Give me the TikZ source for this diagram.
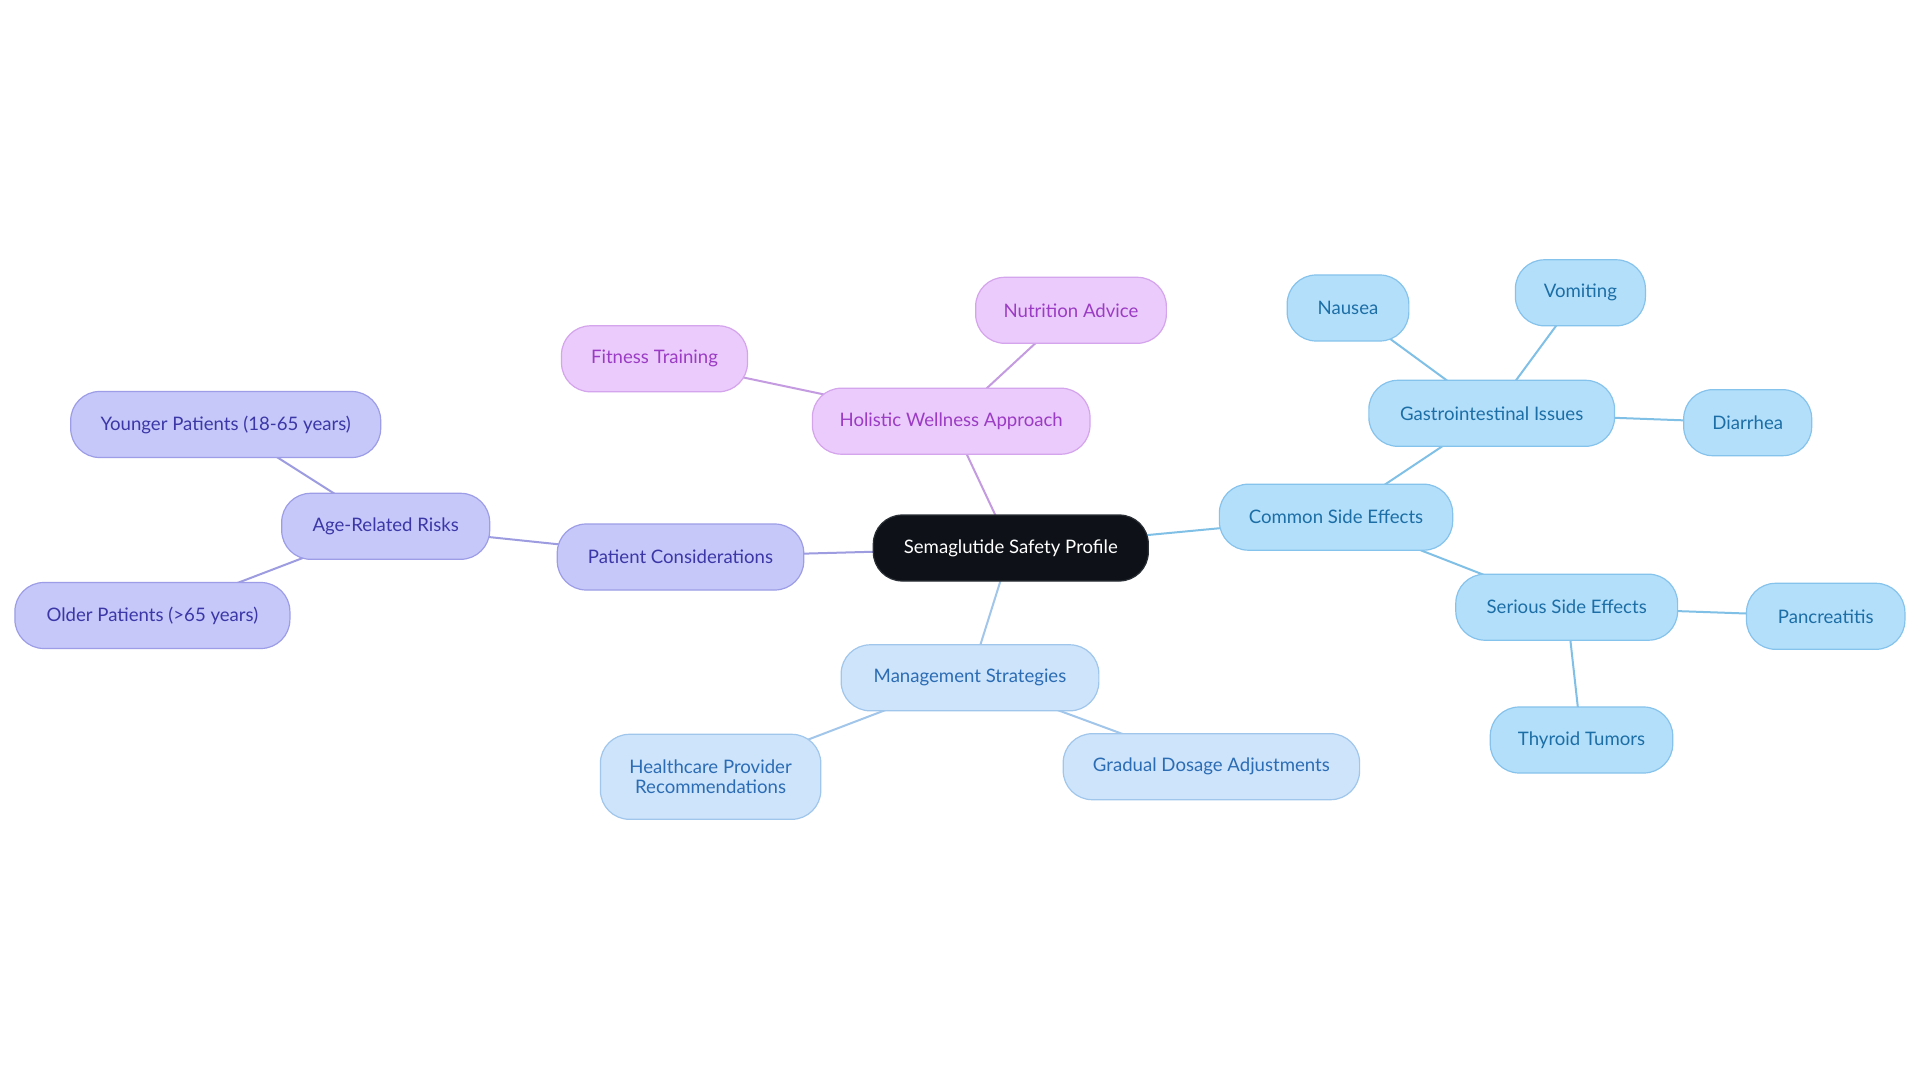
\documentclass[tikz,border=0pt]{standalone}
\usepackage{fontspec}
\setmainfont{Lato}
\usetikzlibrary{backgrounds}
\definecolor{cenfill}{HTML}{0E1218}
\definecolor{cendraw}{HTML}{2A2F36}
\definecolor{patfill}{HTML}{C6C8FA}
\definecolor{patdraw}{HTML}{9C9DE6}
\definecolor{pattext}{HTML}{3B37A6}
\definecolor{patedge}{HTML}{9E9CE0}
\definecolor{holfill}{HTML}{EBCBFB}
\definecolor{holdraw}{HTML}{D4A4EC}
\definecolor{holtext}{HTML}{9B3CC4}
\definecolor{holedge}{HTML}{C49BE0}
\definecolor{comfill}{HTML}{B3DFFA}
\definecolor{comdraw}{HTML}{86C3EC}
\definecolor{comtext}{HTML}{1C6EA6}
\definecolor{comedge}{HTML}{80C0E6}
\definecolor{mgtfill}{HTML}{CDE4FB}
\definecolor{mgtdraw}{HTML}{A0C6EC}
\definecolor{mgttext}{HTML}{2C6CB4}
\definecolor{mgtedge}{HTML}{A2C6EA}
\begin{document}
\begin{tikzpicture}[x=1pt,y=-1pt,
  box/.style={rounded corners=29pt, minimum height=66pt, line width=1.2pt, inner sep=0pt,
    font=\fontsize{18.6}{20.5}\selectfont, align=center},
  cen/.style={box, fill=cenfill, draw=cendraw, text=white},
  pat/.style={box, fill=patfill, draw=patdraw, text=pattext},
  hol/.style={box, fill=holfill, draw=holdraw, text=holtext},
  com/.style={box, fill=comfill, draw=comdraw, text=comtext},
  mgt/.style={box, fill=mgtfill, draw=mgtdraw, text=mgttext},
  pe/.style={draw=patedge, line width=2pt},
  he/.style={draw=holedge, line width=2pt},
  ce/.style={draw=comedge, line width=2pt},
  me/.style={draw=mgtedge, line width=2pt}]
\useasboundingbox (0,0) rectangle (1920,1083);
\node[cen, minimum width=275pt] (central) at (1010.8,548) {Semaglutide Safety Profile};
\node[hol, minimum width=277.6pt] (holistic) at (951.2,421.2) {Holistic Wellness Approach};
\node[hol, minimum width=190.7pt] (nutrition) at (1071,310.3) {Nutrition Advice};
\node[hol, minimum width=186pt] (fitness) at (654.5,358.8) {Fitness Training};
\node[pat, minimum width=246.5pt] (patient) at (680.5,557) {Patient Considerations};
\node[pat, minimum width=208pt] (age) at (385.7,526.3) {Age-Related Risks};
\node[pat, minimum width=310pt] (young) at (225.7,424.5) {Younger Patients (18-65 years)};
\node[pat, minimum width=275pt] (old) at (152.4,615.5) {Older Patients (>65 years)};
\node[com, minimum width=233.3pt] (common) at (1336,517.2) {Common Side Effects};
\node[com, minimum width=245.7pt] (gastro) at (1491.7,413.3) {Gastrointestinal Issues};
\node[com, minimum width=121.7pt] (nausea) at (1348,308) {Nausea};
\node[com, minimum width=130pt] (vomit) at (1580.4,292.8) {Vomiting};
\node[com, minimum width=128pt] (diarrhea) at (1747.7,422.7) {Diarrhea};
\node[com, minimum width=221.8pt] (serious) at (1566.7,607.2) {Serious Side Effects};
\node[com, minimum width=158.4pt] (pancreas) at (1825.7,616.3) {Pancreatitis};
\node[com, minimum width=182.5pt] (thyroid) at (1581.5,740) {Thyroid Tumors};
\node[mgt, minimum width=257.7pt] (mgmt) at (970,677.8) {Management Strategies};
\node[mgt, minimum width=220.4pt, minimum height=85pt] (health) at (710.6,776.8) {Healthcare Provider\\Recommendations};
\node[mgt, minimum width=296.4pt] (gradual) at (1211.4,766.7) {Gradual Dosage Adjustments};
\begin{scope}[on background layer]
\fill[white] (0,0) rectangle (1920,1083);
\draw[he] (central.center) -- (holistic.center);
\draw[he] (holistic.center) -- (nutrition.center);
\draw[he] (holistic.center) -- (fitness.center);
\draw[pe] (central.center) -- (patient.center);
\draw[pe] (patient.center) -- (age.center);
\draw[pe] (age.center) -- (young.center);
\draw[pe] (age.center) -- (old.center);
\draw[ce] (central.center) -- (common.center);
\draw[ce] (common.center) -- (gastro.center);
\draw[ce] (gastro.center) -- (nausea.center);
\draw[ce] (gastro.center) -- (vomit.center);
\draw[ce] (gastro.center) -- (diarrhea.center);
\draw[ce] (common.center) -- (serious.center);
\draw[ce] (serious.center) -- (pancreas.center);
\draw[ce] (serious.center) -- (thyroid.center);
\draw[me] (central.center) -- (mgmt.center);
\draw[me] (mgmt.center) -- (health.center);
\draw[me] (mgmt.center) -- (gradual.center);
\end{scope}
\end{tikzpicture}
\end{document}
